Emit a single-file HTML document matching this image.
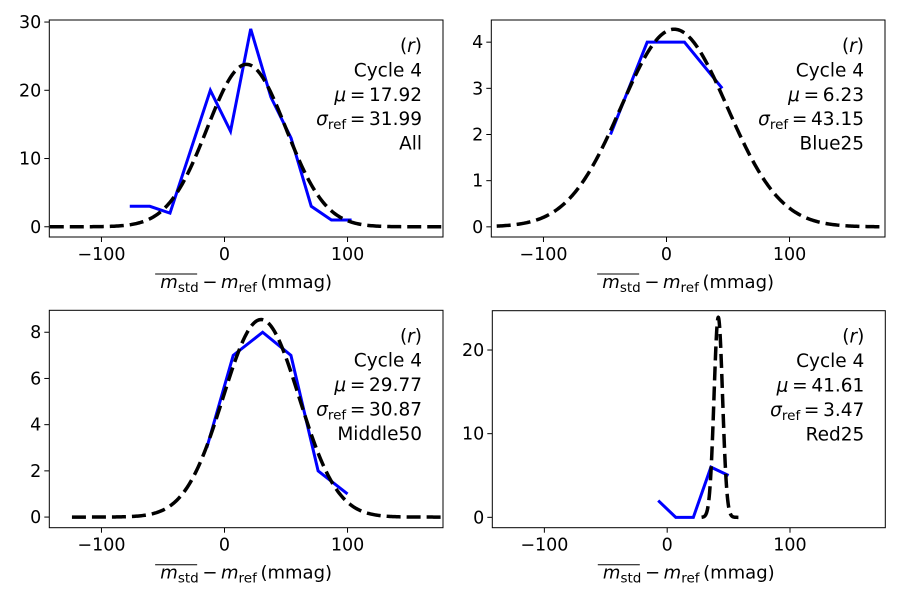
<!DOCTYPE html>
<html><head><meta charset="utf-8"><style>
html,body{margin:0;padding:0;background:#fff;}
svg{display:block;font-family:"DejaVu Sans","Liberation Sans",sans-serif;}
</style></head><body>
<svg id="fig" width="900" height="600" viewBox="0 0 900 600"></svg>
<script>
// Panel data
const panelNames = ['all', 'blue25', 'middle50', 'red25'];
const groupLabels = ['All', 'Blue25', 'Middle50', 'Red25'];
const muValues = [17.92, 6.23, 29.77, 41.61];
const sigmaValues = [31.99, 43.15, 30.87, 3.47];
const gaussPeaks = [23.8, 4.28, 8.55, 23.9];
const gaussRanges = [[-142, 178], [-138, 180], [-124, 178], [28, 58]];
const histX_all = [-77, -60.7, -44.3, -27.9, -11.5, 4.9, 21.3, 37.7, 54.1, 70.5, 86.9, 103.3];
const histY_all = [3, 3, 2, 11, 20, 14, 29, 19, 13, 3, 1, 1];
const histX_blue = [-45.5, -15.7, 14.6, 45.3];
const histY_blue = [2, 4, 4, 3];
const histX_mid = [-14.4, 7.1, 31, 54, 76.1, 100];
const histY_mid = [3, 7, 8, 7, 2, 1];
const histX_red = [-7.3, 7, 21.3, 35.6, 50];
const histY_red = [2, 0, 0, 6, 5];
const xTicks = [-100, 0, 100];
const yTicks_all = [0, 10, 20, 30];
const yTicks_blue = [0, 1, 2, 3, 4];
const yTicks_mid = [0, 2, 4, 6, 8];
const yTicks_red = [0, 10, 20];
const yLims = [[-1.5, 30.3], [-0.22, 4.48], [-0.46, 8.95], [-1.24, 24.7]];
const xLim = [-142.4, 177.6];

const histXs = [histX_all, histX_blue, histX_mid, histX_red];
const histYs = [histY_all, histY_blue, histY_mid, histY_red];
const yTickSets = [yTicks_all, yTicks_blue, yTicks_mid, yTicks_red];
const boxes = [[49.3, 20, 443, 237], [491.3, 20, 885, 237], [49.3, 310.3, 443, 527.7], [492.3, 310.7, 885.3, 527.7]];

const NS = 'http://www.w3.org/2000/svg';
const svg = document.getElementById('fig');
function mk(tag, attrs, parent) {
  const e = document.createElementNS(NS, tag);
  for (const k in attrs) e.setAttribute(k, attrs[k]);
  (parent || svg).appendChild(e);
  return e;
}

for (let p = 0; p < 4; p++) {
  const [L, T, R, B] = boxes[p];
  const g = mk('g', {});
  
  
  const xs = v => L + (v - xLim[0]) / (xLim[1] - xLim[0]) * (R - L);
  const ys = v => B - (v - yLims[p][0]) / (yLims[p][1] - yLims[p][0]) * (B - T);

  const clipId = 'clip' + p;
  const cp = mk('clipPath', { id: clipId }, g);
  mk('rect', { x: L, y: T, width: R - L, height: B - T }, cp);

  const pts = histXs[p].map((x, i) => xs(x).toFixed(2) + ',' + ys(histYs[p][i]).toFixed(2)).join(' ');
  const hl = mk('polyline', { points: pts, fill: 'none', stroke: '#0000ff', 'stroke-width': 3, 'stroke-linejoin': 'miter', 'clip-path': 'url(#' + clipId + ')' }, g);
  
  

  const gp = [];
  const [a, b] = gaussRanges[p];
  const n = 300;
  for (let i = 0; i <= n; i++) {
    const x = a + (b - a) * i / n;
    const y = gaussPeaks[p] * Math.exp(-0.5 * Math.pow((x - muValues[p]) / sigmaValues[p], 2));
    gp.push(xs(x).toFixed(2) + ',' + ys(y).toFixed(2));
  }
  const gl = mk('polyline', { points: gp.join(' '), fill: 'none', stroke: '#000', 'stroke-width': 3.5, 'stroke-dasharray': '14,6', 'clip-path': 'url(#' + clipId + ')' }, g);
  
  

  const fr = mk('rect', { x: L, y: T, width: R - L, height: B - T, fill: 'none', stroke: '#000', 'stroke-width': 1 }, g);
  
  

  xTicks.forEach(t => {
    const x = xs(t);
    mk('line', { x1: x, y1: B, x2: x, y2: B + 5, stroke: '#000', 'stroke-width': 1 }, g);
    const tx = mk('text', { x: x, y: B + 23, 'font-size': 17.5, 'text-anchor': 'middle', fill: '#000' }, g);
    tx.textContent = t < 0 ? '\u2212' + Math.abs(t) : String(t);
    
    
  });
  yTickSets[p].forEach(t => {
    const y = ys(t);
    mk('line', { x1: L - 5, y1: y, x2: L, y2: y, stroke: '#000', 'stroke-width': 1 }, g);
    const tx = mk('text', { x: L - 8, y: y + 6, 'font-size': 17.5, 'text-anchor': 'end', fill: '#000' }, g);
    tx.textContent = String(t);
    
    
  });

  const cx = (L + R) / 2;
  const xt = mk('text', { x: cx, y: B + 51, 'font-size': 18, 'text-anchor': 'middle', fill: '#000' }, g);
  
  
  xt.innerHTML = '<tspan font-style="italic">m</tspan><tspan font-size="13.5" dy="4">std</tspan><tspan dy="-4">\u2009\u2212\u2009</tspan><tspan font-style="italic">m</tspan><tspan font-size="13.5" dy="4">ref</tspan><tspan dy="-4">\u2009(mmag)</tspan>';
  mk('line', { x1: cx - 91, y1: B + 37, x2: cx - 49, y2: B + 37, stroke: '#000', 'stroke-width': 1 }, g);

  const ax = R - 21;
  const lines = ['(r)', 'Cycle 4', 'mu', 'sigma', groupLabels[p]];
  lines.forEach((s, i) => {
    const y = T + 32 + 24.4 * i;
    const t = mk('text', { x: ax, y: y, 'font-size': 18.5, 'text-anchor': 'end', fill: '#000' }, g);
    if (s === '(r)') t.innerHTML = '(<tspan font-style="italic">r</tspan>)';
    else if (s === 'mu') t.innerHTML = '<tspan font-style="italic">\u03bc</tspan>\u2009=\u2009' + muValues[p].toFixed(2);
    else if (s === 'sigma') t.innerHTML = '<tspan font-style="italic">\u03c3</tspan><tspan font-size="13.5" dy="4">ref</tspan><tspan dy="-4">\u2009=\u2009' + sigmaValues[p].toFixed(2) + '</tspan>';
    else t.textContent = s;
    
    
  });
}
</script>
</body></html>
